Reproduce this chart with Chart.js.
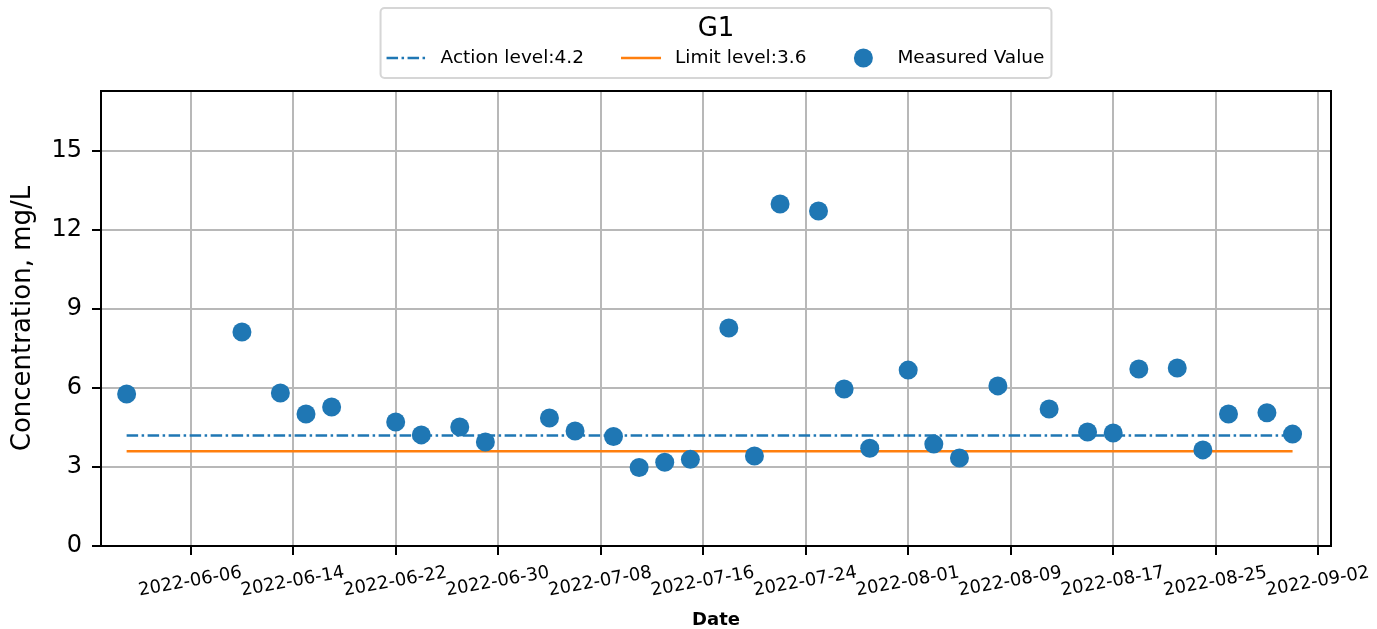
<!DOCTYPE html>
<html>
<head>
<meta charset="utf-8">
<title>G1</title>
<script src="https://cdn.jsdelivr.net/npm/chart.js@4/dist/chart.umd.min.js"></script>
<style>
  body { margin: 0; background: #fff; }
  #chart { display: block; }
</style>
</head>
<body>
<canvas id="chart" width="1377" height="629"></canvas>
<script>
// sample dates and measured concentrations (mg/L)
const sampleDates = [
  '2022-06-01', '2022-06-10', '2022-06-13', '2022-06-15', '2022-06-17',
  '2022-06-22', '2022-06-24', '2022-06-27', '2022-06-29', '2022-07-04',
  '2022-07-06', '2022-07-09', '2022-07-11', '2022-07-13', '2022-07-15',
  '2022-07-18', '2022-07-20', '2022-07-22', '2022-07-25', '2022-07-27',
  '2022-07-29', '2022-08-01', '2022-08-03', '2022-08-05', '2022-08-08',
  '2022-08-12', '2022-08-15', '2022-08-17', '2022-08-19', '2022-08-22',
  '2022-08-24', '2022-08-26', '2022-08-29', '2022-08-31'
];
const measuredValues = [
  5.77, 8.13, 5.81, 5.01, 5.28,
  4.71, 4.22, 4.52, 3.95, 4.86,
  4.37, 4.16, 2.98, 3.18, 3.29,
  8.28, 3.42, 12.99, 12.72, 5.96,
  3.71, 6.68, 3.87, 3.34, 6.08,
  5.20, 4.33, 4.29, 6.72, 6.76,
  3.65, 5.01, 5.06, 4.25
];
const actionLevel = 4.2;
const limitLevel = 3.6;

const tickDates = [
  '2022-06-06', '2022-06-14', '2022-06-22', '2022-06-30', '2022-07-08',
  '2022-07-16', '2022-07-24', '2022-08-01', '2022-08-09', '2022-08-17',
  '2022-08-25', '2022-09-02'
];
const xRange = ['2022-05-30', '2022-09-03'];
const yRange = [0, 17.28];

// dates -> day numbers (linear axis, no date adapter needed)
const DAY = 86400000;
const ORIGIN = Date.UTC(2022, 5, 6);
function dayNum(s) {
  const [y, m, d] = s.split('-').map(Number);
  return (Date.UTC(y, m - 1, d) - ORIGIN) / DAY;
}

const firstDay = dayNum(sampleDates[0]);
const lastDay = dayNum(sampleDates[sampleDates.length - 1]);
const tickDays = tickDates.map(dayNum);

const FONT = 'DejaVu Sans';
const BLUE = '#1f77b4';
const ORANGE = '#ff7f0e';

// closed frame round the plot area
const framePlugin = {
  id: 'frame',
  afterDraw(chart) {
    const { ctx, chartArea: a } = chart;
    ctx.save();
    ctx.strokeStyle = '#000';
    ctx.lineWidth = 2;
    ctx.strokeRect(a.left, a.top, a.right - a.left, a.bottom - a.top);
    ctx.restore();
  }
};

// matplotlib-like boxed legend with a title
const boxLegendPlugin = {
  id: 'boxLegend',
  afterDraw(chart) {
    const { ctx, chartArea: a } = chart;
    const sets = chart.data.datasets;
    const handleW = 40, gap = 14, spacing = 37, padL = 6, padR = 7;
    ctx.save();
    ctx.font = `18.5px "${FONT}"`;
    const widths = sets.map(ds => ctx.measureText(ds.label).width);
    const total = padL + padR + widths.reduce((s, w) => s + handleW + gap + w, 0) + spacing * (sets.length - 1);
    const cx = (a.left + a.right) / 2;
    const left = cx - total / 2;
    const top = 8, bottom = 78, r = 4;

    ctx.beginPath();
    ctx.roundRect(left, top, total, bottom - top, r);
    ctx.fillStyle = 'rgba(255,255,255,0.8)';
    ctx.fill();
    ctx.strokeStyle = '#d6d6d6';
    ctx.lineWidth = 2;
    ctx.stroke();

    ctx.fillStyle = '#000';
    ctx.font = `26px "${FONT}"`;
    ctx.textAlign = 'center';
    ctx.textBaseline = 'middle';
    ctx.fillText('G1', cx, 29);

    const y = 58;
    let x = left + padL;
    ctx.font = `18.5px "${FONT}"`;
    ctx.textAlign = 'left';
    sets.forEach((ds, i) => {
      if (ds.showLine) {
        ctx.beginPath();
        ctx.setLineDash(ds.borderDash || []);
        ctx.strokeStyle = ds.borderColor;
        ctx.lineWidth = ds.borderWidth;
        ctx.moveTo(x, y);
        ctx.lineTo(x + handleW, y);
        ctx.stroke();
        ctx.setLineDash([]);
      } else {
        ctx.beginPath();
        ctx.arc(x + handleW / 2, y, ds.pointRadius, 0, Math.PI * 2);
        ctx.fillStyle = ds.pointBackgroundColor;
        ctx.fill();
      }
      ctx.fillStyle = '#000';
      ctx.fillText(ds.label, x + handleW + gap, y);
      x += handleW + gap + widths[i] + spacing;
    });
    ctx.restore();
  }
};

const ctx = document.getElementById('chart').getContext('2d');
new Chart(ctx, {
  type: 'scatter',
  data: {
    datasets: [
      {
        label: 'Action level:' + actionLevel,
        data: [{ x: firstDay, y: actionLevel }, { x: lastDay, y: actionLevel }],
        showLine: true,
        borderColor: BLUE,
        borderWidth: 2.5,
        borderDash: [11.5, 3.5, 2.5, 3.5],
        pointRadius: 0,
        order: 2
      },
      {
        label: 'Limit level:' + limitLevel,
        data: [{ x: firstDay, y: limitLevel }, { x: lastDay, y: limitLevel }],
        showLine: true,
        borderColor: ORANGE,
        borderWidth: 2.5,
        pointRadius: 0,
        order: 1
      },
      {
        label: 'Measured Value',
        data: sampleDates.map((d, i) => ({ x: dayNum(d), y: measuredValues[i] })),
        showLine: false,
        pointRadius: 9.5,
        pointBackgroundColor: BLUE,
        pointBorderWidth: 0,
        order: 0
      }
    ]
  },
  options: {
    responsive: false,
    animation: false,
    devicePixelRatio: 1,
    layout: { padding: { top: 91, right: 46, bottom: 0, left: 0 } },
    plugins: {
      legend: { display: false },
      tooltip: { enabled: false }
    },
    scales: {
      x: {
        type: 'linear',
        min: dayNum(xRange[0]),
        max: dayNum(xRange[1]),
        afterBuildTicks(scale) {
          scale.ticks = tickDays.map(v => ({ value: v }));
        },
        afterFit(scale) { scale.height = 83; },
        grid: { color: '#b8b8b8', lineWidth: 2, tickLength: 9, tickColor: '#000', tickWidth: 2 },
        border: { display: false },
        ticks: {
          autoSkip: false,
          minRotation: 10,
          maxRotation: 10,
          labelOffset: 51,
          padding: 7,
          color: '#000',
          font: { family: FONT, size: 18 },
          callback: (v, i) => tickDates[i]
        },
        title: {
          display: true,
          text: 'Date',
          color: '#000',
          font: { family: FONT, size: 18, weight: 'bold', lineHeight: 1 },
          padding: 0
        }
      },
      y: {
        min: yRange[0],
        max: yRange[1],
        afterFit(scale) { scale.width = 101; },
        grid: { color: '#b8b8b8', lineWidth: 2, tickLength: 9, tickColor: '#000', tickWidth: 2 },
        border: { display: false },
        ticks: {
          stepSize: 3,
          includeBounds: false,
          padding: 10,
          color: '#000',
          font: { family: FONT, size: 24 }
        },
        title: {
          display: true,
          text: 'Concentration, mg/L',
          color: '#000',
          font: { family: FONT, size: 26, lineHeight: 1 },
          padding: { top: 10, bottom: 0 }
        }
      }
    }
  },
  plugins: [framePlugin, boxLegendPlugin]
});
</script>
</body>
</html>
